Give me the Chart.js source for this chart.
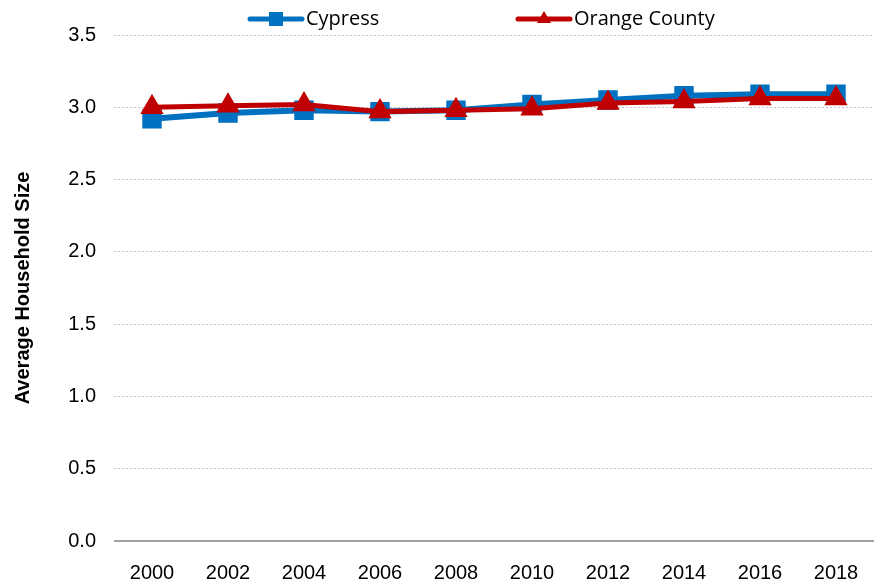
<!DOCTYPE html>
<html>
<head>
<meta charset="utf-8">
<script src="https://cdn.jsdelivr.net/npm/chart.js@4/dist/chart.umd.min.js"></script>
<style>
  html, body { margin: 0; padding: 0; background: #fff; }
  #wrap { width: 878px; height: 584px; position: relative; }
</style>
</head>
<body>
<div id="wrap"><canvas id="chart"></canvas></div>
<script>
const years = ['2000', '2002', '2004', '2006', '2008', '2010', '2012', '2014', '2016', '2018'];
const cypress = [2.92, 2.96, 2.98, 2.97, 2.98, 3.02, 3.05, 3.08, 3.09, 3.09];
const orangeCounty = [3.00, 3.01, 3.02, 2.97, 2.98, 2.99, 3.03, 3.04, 3.06, 3.06];

const BLUE = '#0070C0';
const RED = '#C00000';
const NARROW = '"Liberation Sans Narrow", "Arial Narrow", "Liberation Sans", Arial, sans-serif';

// legend: thick line with marker in the middle, then the name
const legendItems = [
  { text: 'Cypress', color: BLUE, shape: 'rect', x: 247 },
  { text: 'Orange County', color: RED, shape: 'tri', x: 515 }
];

const topLegend = {
  id: 'topLegend',
  afterDraw(chart) {
    const g = chart.ctx;
    const y = 19;
    g.save();
    legendItems.forEach(it => {
      g.strokeStyle = it.color; g.lineWidth = 5; g.lineCap = 'round';
      g.beginPath(); g.moveTo(it.x + 3, y); g.lineTo(it.x + 55, y); g.stroke();
      g.fillStyle = it.color;
      if (it.shape === 'rect') {
        g.fillRect(it.x + 22, y - 7, 14, 14);
      } else {
        g.beginPath(); g.moveTo(it.x + 29, y - 8); g.lineTo(it.x + 36, y + 4); g.lineTo(it.x + 22, y + 4); g.closePath(); g.fill();
      }
      g.fillStyle = '#000';
      g.font = '20px "Open Sans", "Noto Sans", sans-serif';
      g.textBaseline = 'middle';
      g.fillText(it.text, it.x + 59, y);
    });
    g.restore();
  }
};

new Chart(document.getElementById('chart'), {
  type: 'line',
  data: {
    labels: years,
    datasets: [
      {
        label: 'Cypress', data: cypress, order: 1,
        borderColor: BLUE, backgroundColor: BLUE,
        borderWidth: 6, pointStyle: 'rect', pointRadius: 9.5, pointHoverRadius: 9.5,
        tension: 0
      },
      {
        label: 'Orange County', data: orangeCounty, order: 0,
        borderColor: RED, backgroundColor: RED,
        borderWidth: 5, pointStyle: 'triangle', pointRadius: 8.5, pointHoverRadius: 8.5,
        tension: 0
      }
    ]
  },
  options: {
    responsive: true, maintainAspectRatio: false, animation: false,
    layout: { autoPadding: false, padding: { top: 35, right: 4, left: 0, bottom: 0 } },
    plugins: {
      tooltip: { enabled: false },
      legend: { display: false }
    },
    scales: {
      x: {
        offset: true,
        grid: { display: false },
        border: { display: false },
        ticks: { color: '#000', font: { family: NARROW, size: 20 }, padding: 12, maxRotation: 0 },
        afterFit: s => { s.height = 43; s.paddingLeft = 0; s.paddingRight = 0; }
      },
      y: {
        min: 0, max: 3.5,
        ticks: {
          stepSize: 0.5, color: '#000', padding: 18,
          font: { family: NARROW, size: 20 },
          callback: v => v.toFixed(1)
        },
        border: { display: false, dash: ctx => ctx.tick && ctx.tick.value === 0 ? [] : [2, 2] },
        grid: {
          drawTicks: false,
          color: ctx => ctx.tick.value === 0 ? '#a0a0a0' : '#c4c4c4',
          lineWidth: ctx => ctx.tick.value === 0 ? 2 : 1
        },
        title: {
          display: true, text: 'Average Household Size', color: '#000',
          font: { family: 'Liberation Sans, Arial, sans-serif', size: 20, weight: 'bold' },
          padding: { top: 11, bottom: 10 }
        },
        afterFit: s => { s.width = 114; }
      }
    }
  },
  plugins: [topLegend]
});
</script>
</body>
</html>
